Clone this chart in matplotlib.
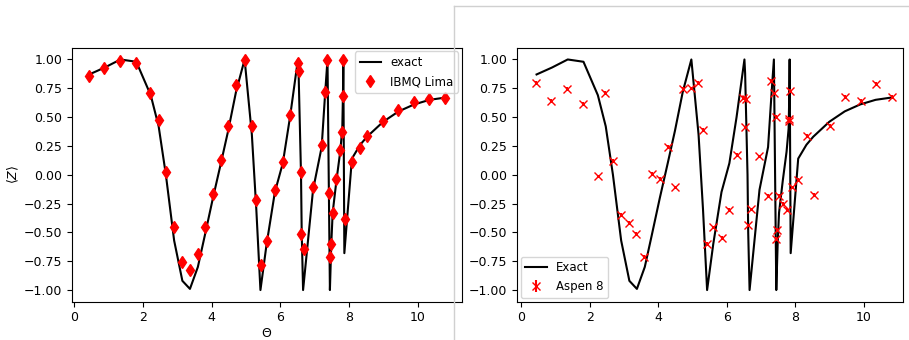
import numpy as np
import matplotlib.pyplot as plt
from matplotlib.lines import Line2D

plt.rcParams['font.size'] = 9

# exact curve (same in both panels)
theta_exact = [0.44, 0.89, 1.35, 1.81, 2.23, 2.46, 2.67, 2.91, 3.15, 3.37, 3.60, 3.80, 4.04, 4.27,
               4.48, 4.71, 4.96, 5.17, 5.30, 5.42, 5.60, 5.84, 6.07, 6.28, 6.51, 6.53, 6.60, 6.62,
               6.66, 6.95, 7.20, 7.30, 7.37, 7.44, 7.48, 7.52, 7.63, 7.74, 7.80, 7.82, 7.83, 7.86,
               8.08, 8.32, 8.52, 8.99, 9.44, 9.89, 10.34, 10.81]
z_exact = [0.87, 0.93, 1.00, 0.98, 0.69, 0.42, 0.00, -0.57, -0.92, -0.99, -0.80, -0.53, -0.20, 0.10,
           0.38, 0.72, 1.00, 0.35, -0.30, -1.00, -0.60, -0.15, 0.10, 0.50, 1.00, 0.88, 0.00, -0.50,
           -1.00, -0.13, 0.24, 0.70, 1.00, -1.00, -0.60, -0.33, -0.05, 0.20, 0.40, 0.70, 1.00, -0.68,
           0.14, 0.26, 0.33, 0.46, 0.55, 0.61, 0.65, 0.67]

# IBMQ Lima run
theta_lima = [0.43, 0.88, 1.34, 1.80, 2.22, 2.47, 2.68, 2.91, 3.15, 3.38, 3.60, 3.80, 4.04, 4.27,
              4.48, 4.71, 4.96, 5.17, 5.30, 5.43, 5.60, 5.83, 6.07, 6.28, 6.51, 6.53, 6.60, 6.61,
              6.68, 6.95, 7.20, 7.30, 7.37, 7.41, 7.44, 7.48, 7.52, 7.63, 7.74, 7.80, 7.83, 7.83,
              7.88, 8.08, 8.32, 8.51, 8.98, 9.43, 9.88, 10.33, 10.80]
z_lima = [0.859, 0.923, 0.986, 0.969, 0.712, 0.476, 0.026, -0.45, -0.755, -0.83,
          -0.69, -0.456, -0.167, 0.124, 0.424, 0.779, 0.995, 0.421, -0.219, -0.779,
          -0.571, -0.136, 0.11, 0.519, 0.966, 0.90, 0.026, -0.513, -0.64, -0.11,
          0.26, 0.72, 0.997, -0.156, -0.709, -0.60, -0.33, -0.04, 0.216, 0.375,
          0.68, 0.995, -0.38, 0.115, 0.23, 0.337, 0.467, 0.56, 0.629, 0.655, 0.663]

# Aspen 8 run
theta_aspen = [0.41, 0.86, 1.33, 1.79, 2.23, 2.45, 2.66, 2.90, 3.14, 3.35, 3.59, 3.80, 4.03, 4.27,
               4.48, 4.72, 4.95, 5.16, 5.30, 5.43, 5.60, 5.85, 6.07, 6.28, 6.48, 6.53, 6.57, 6.62,
               6.69, 6.94, 7.21, 7.30, 7.37, 7.42, 7.44, 7.45, 7.53, 7.64, 7.74, 7.81, 7.82, 7.84,
               7.89, 8.08, 8.33, 8.54, 9.01, 9.45, 9.90, 10.35, 10.81]
z_aspen = [0.794, 0.643, 0.747, 0.615, -0.014, 0.713, 0.121, -0.346, -0.418, -0.51,
           -0.71, 0.009, -0.037, 0.24, -0.11, 0.742, 0.75, 0.80, 0.39, -0.60,
           -0.456, -0.55, -0.306, 0.17, 0.664, 0.41, 0.658, -0.44, -0.30, 0.16,
           -0.18, 0.816, 0.707, 0.505, -0.554, -0.476, -0.18, -0.254, -0.303, 0.468,
           0.487, 0.727, -0.11, -0.043, 0.34, -0.173, 0.424, 0.673, 0.643, 0.788, 0.678]

fig = plt.figure(figsize=(9.09, 3.4), dpi=100)
ax1 = fig.add_axes([0.0792, 0.113, 0.429, 0.746])
ax2 = fig.add_axes([0.5688, 0.113, 0.4246, 0.746])

# left panel
ax1.plot(theta_exact, z_exact, color='k', label='exact')
ax1.plot(theta_lima, z_lima, 'd', color='red', linestyle='none', label='IBMQ Lima')
ax1.set_xlim(-0.06, 11.28)
ax1.set_ylim(-1.1, 1.1)
ax1.set_xlabel(r'$\Theta$', labelpad=2)
ax1.set_ylabel(r'$\langle Z\rangle$', labelpad=2)
ax1.legend(loc='upper right', fontsize=8.5, handlelength=1.8, borderaxespad=0.3)

# right panel
ax2.plot(theta_exact, z_exact, color='k', label='Exact')
ax2.errorbar(theta_aspen, z_aspen, yerr=0.015, fmt='x', color='red', label='Aspen 8')
ax2.set_xlim(-0.13, 11.14)
ax2.set_ylim(-1.1, 1.1)
ax2.legend(loc='lower left', fontsize=8.5, handlelength=1.8, borderaxespad=0.3)

# border of the second screenshot
fig.add_artist(Line2D([0.4995, 0.4995], [0.0, 0.982], color='#d0d0d0', lw=1))
fig.add_artist(Line2D([0.4995, 1.0], [0.982, 0.982], color='#d0d0d0', lw=1))

plt.savefig("out.png", dpi=100)
